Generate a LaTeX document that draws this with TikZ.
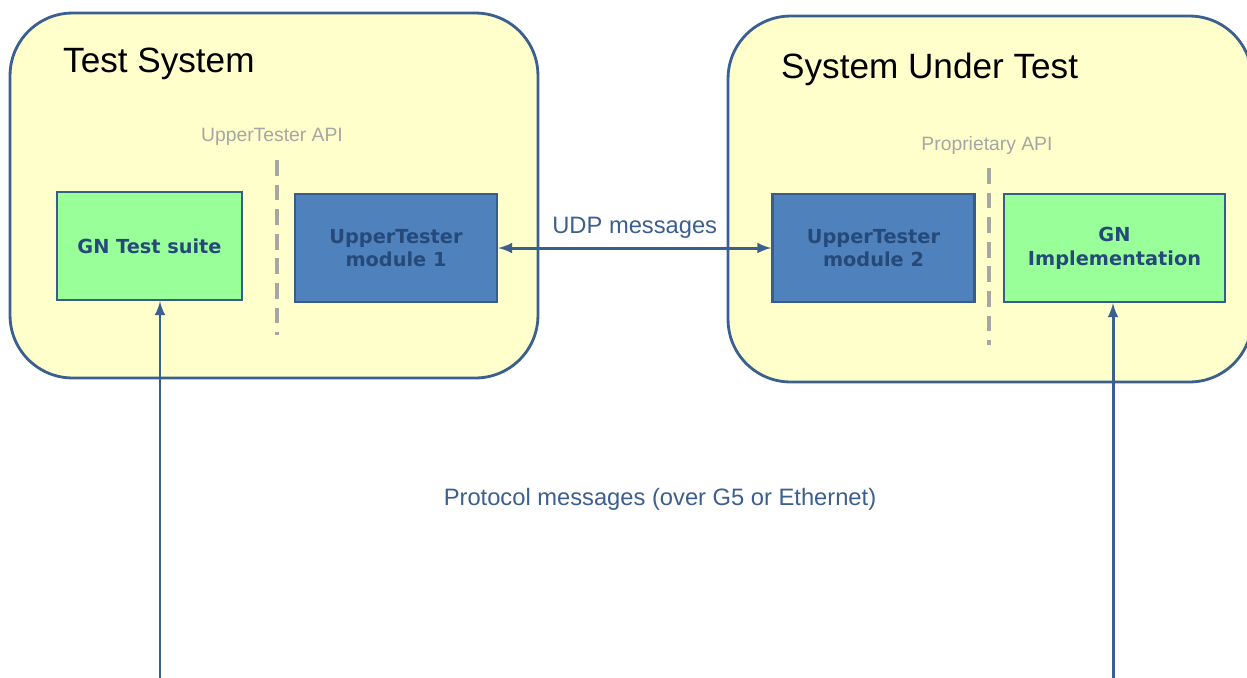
\documentclass[tikz,border=0pt]{standalone}
\usepackage{fontspec}
\setmainfont{Liberation Sans}
\newfontfamily\boxfont{DejaVu Sans}
\usetikzlibrary{shapes,arrows,positioning}
\definecolor{sysfill}{HTML}{FFFFCC}
\definecolor{sysline}{HTML}{3B5F8E}
\definecolor{utfill}{HTML}{4F81BD}
\definecolor{utline}{HTML}{385D8A}
\definecolor{gnfill}{HTML}{99FF99}
\definecolor{boxtext}{HTML}{254A7A}
\definecolor{apigray}{HTML}{A6A6A6}
\tikzstyle{system} = [rectangle, draw=sysline, line width=1.6pt, fill=sysfill,
    rounded corners=1.25cm, inner sep=0pt]
\tikzstyle{block} = [rectangle, draw=utline, line width=1.4pt, fill=utfill,
    minimum width=4.04cm, minimum height=2.16cm, align=center,
    text=boxtext, font=\boxfont\bfseries\fontsize{11}{13.5}\selectfont]
\tikzstyle{gnblock} = [block, fill=gnfill]
\tikzstyle{api} = [draw=apigray, line width=2.8pt, dash pattern=on 9pt off 5pt]
\tikzstyle{line} = [draw=sysline, line width=1.7pt, -latex]

\begin{document}
\begin{tikzpicture}[x=0.02cm, y=-0.02cm]
	\useasboundingbox (0,0) rectangle (1247,677);

		\node [system, minimum width=10.56cm, minimum height=7.3cm] (ts) at (274,195.5) {};
		\node [system, minimum width=10.48cm, minimum height=7.32cm] (sut) at (990,199) {};
		\node [font=\fontsize{20}{24}\selectfont, anchor=west] (tstitle) at (57,64) {Test System};
		\node [font=\fontsize{20}{24}\selectfont, anchor=west] (suttitle) at (775,69) {System Under Test};

		\node [gnblock, minimum width=3.7cm] (suite) at (149.5,246) {GN Test suite};
		\node [block] (ut1) at (396,248) {UpperTester\\module 1};
		\node [block] (ut2) at (873.5,248) {UpperTester\\module 2};
		\node [gnblock, minimum width=4.42cm] (impl) at (1114.5,248) {GN\\Implementation};

		% API borders
		\node [text=apigray, font=\fontsize{11}{13}\selectfont] (utapi) at (272,137) {UpperTester API};
		\node [text=apigray, font=\fontsize{11}{13}\selectfont] (propapi) at (987,145) {Proprietary API};
		\coordinate (utapi-top) at (277,160);
		\coordinate (utapi-bot) at (277,335);
		\coordinate (propapi-top) at (989,168);
		\coordinate (propapi-bot) at (989,345);
		\path [api] (utapi-top) -- (utapi-bot);
		\path [api] (propapi-top) -- (propapi-bot);

		\path [line, latex-latex] (ut1) -- node[above=1pt, text=sysline, font=\fontsize{13.5}{16}\selectfont] (udp) {UDP messages} (ut2);

		\coordinate (suite-in) at (160,690);
		\coordinate (impl-in) at (1113,690);
		\path [line] (suite-in) -- (suite.south -| suite-in);
		\path [line] (impl-in) -- (impl.south -| impl-in);
		\node [text=sysline, font=\fontsize{13.5}{16}\selectfont] (proto) at (660,499) {Protocol messages (over G5 or Ethernet)};
	\end{tikzpicture}
\end{document}
